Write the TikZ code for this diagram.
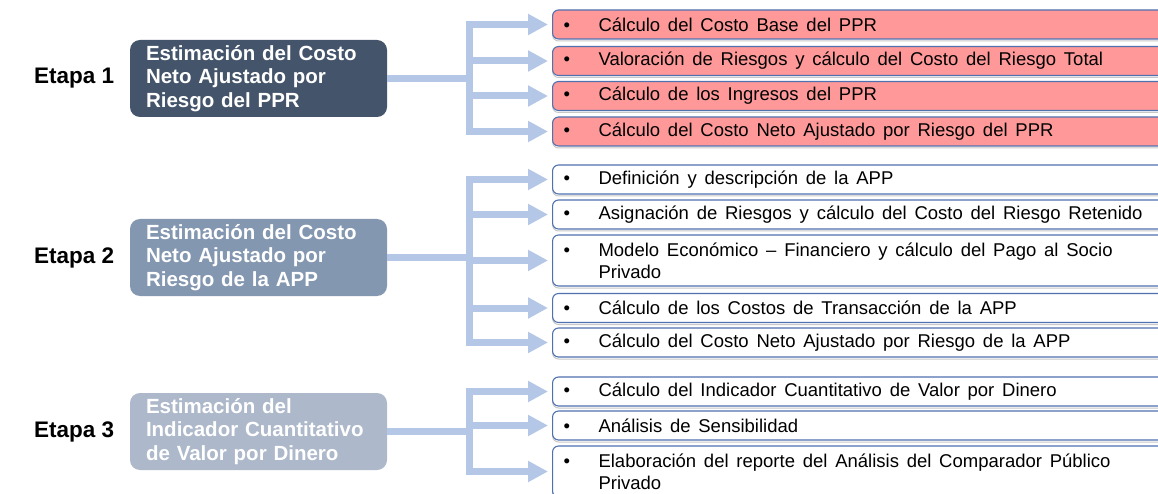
\documentclass[tikz,border=0pt]{standalone}
\usepackage{fontspec}
\setmainfont{Liberation Sans}
\usetikzlibrary{arrows.meta}
\definecolor{dk}{HTML}{44546A}
\definecolor{md}{HTML}{8497B0}
\definecolor{lt}{HTML}{ADB9CA}
\definecolor{connc}{HTML}{B4C7E7}
\definecolor{redf}{HTML}{FF9999}
\definecolor{bord}{HTML}{4F71B0}
\newcommand{\itm}[1]{\parbox{620pt}{\fontsize{18.5}{22}\selectfont\spaceskip=0.42em plus 0.1em minus 0.05em\hangindent=46pt\hangafter=1\noindent\hspace*{11pt}\makebox[35pt][l]{•}#1}}
\begin{document}
\begin{tikzpicture}[x=1pt,y=-1pt,
  stage/.style={rounded corners=10pt, minimum width=257pt, minimum height=77pt, text=white,
    font=\fontsize{20.5}{23.5}\selectfont\bfseries, align=left, text width=225pt, inner xsep=16pt, inner ysep=0pt},
  etapa/.style={font=\fontsize{22.5}{27}\selectfont\bfseries, anchor=west, inner sep=0pt},
  itembox/.style={draw=bord, line width=1.1pt, rounded corners=6pt, anchor=west, inner sep=0pt, minimum height=29pt,
    preaction={draw=black!22, line width=1pt, transform canvas={yshift=-2pt}}},
  tall/.style={minimum height=51pt},
  conn/.style={draw=connc, line width=7pt, line join=miter, -{Triangle[length=20pt,width=20pt]}, shorten >=4pt}
]
\useasboundingbox (0,0) rectangle (1158,494);
\clip (0,0) rectangle (1158,494);
\fill[white] (0,0) rectangle (1158,494);

% stage labels
\node[etapa] (e1) at (34,78.5) {Etapa 1};
\node[etapa] (e2) at (34,257.5) {Etapa 2};
\node[etapa] (e3) at (34,431.5) {Etapa 3};

% stage boxes
\node[stage, fill=dk] (s1) at (258.5,78.5) {Estimación del Costo\\Neto Ajustado por\\Riesgo del PPR};
\node[stage, fill=md] (s2) at (258.5,257.5) {Estimación del Costo\\Neto Ajustado por\\Riesgo de la APP};
\node[stage, fill=lt] (s3) at (258.5,431.5) {Estimación del\\Indicador Cuantitativo\\de Valor por Dinero};

% items stage 1
\node[itembox, fill=redf] (a1) at (552,24.5) {\itm{Cálculo del Costo Base del PPR}};
\node[itembox, fill=redf] (a2) at (552,61) {\itm{Valoración de Riesgos y cálculo del Costo del Riesgo Total}};
\node[itembox, fill=redf] (a3) at (552,96) {\itm{Cálculo de los Ingresos del PPR}};
\node[itembox, fill=redf] (a4) at (552,131.5) {\itm{Cálculo del Costo Neto Ajustado por Riesgo del PPR}};

% items stage 2
\node[itembox, fill=white] (b1) at (552,179.5) {\itm{Definición y descripción de la APP}};
\node[itembox, fill=white] (b2) at (552,214.5) {\itm{Asignación de Riesgos y cálculo del Costo del Riesgo Retenido}};
\node[itembox, tall, fill=white] (b3) at (552,260.5) {\itm{Modelo Económico – Financiero y cálculo del Pago al Socio\\Privado}};
\node[itembox, fill=white] (b4) at (552,308) {\itm{Cálculo de los Costos de Transacción de la APP}};
\node[itembox, fill=white] (b5) at (552,342.5) {\itm{Cálculo del Costo Neto Ajustado por Riesgo de la APP}};

% items stage 3
\node[itembox, fill=white] (c1) at (552,391.5) {\itm{Cálculo del Indicador Cuantitativo de Valor por Dinero}};
\node[itembox, fill=white] (c2) at (552,425.5) {\itm{Análisis de Sensibilidad}};
\node[itembox, tall, fill=white] (c3) at (552,471.5) {\itm{Elaboración del reporte del Análisis del Comparador Público\\Privado}};

% junctions
\coordinate (j1) at (469.5,78.5);
\coordinate (j2) at (469.5,257.5);
\coordinate (j3) at (469.5,431.5);

\foreach \t in {a1,a2,a3,a4} \draw[conn] (s1.east) -- (j1) |- (\t.west);
\foreach \t in {b1,b2,b3,b4,b5} \draw[conn] (s2.east) -- (j2) |- (\t.west);
\foreach \t in {c1,c2,c3} \draw[conn] (s3.east) -- (j3) |- (\t.west);
\end{tikzpicture}
\end{document}
